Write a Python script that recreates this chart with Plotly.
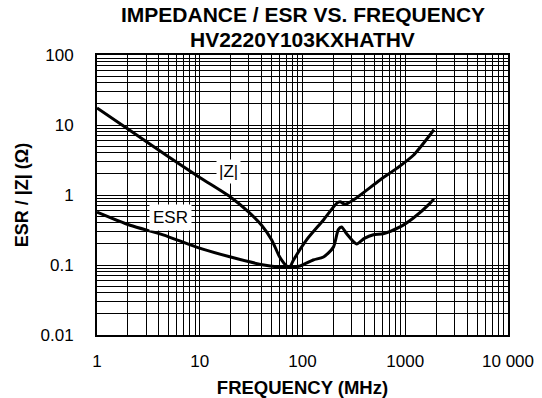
import plotly.graph_objects as go

# ---- data ----
freq_z = [1, 2, 5, 10, 20, 30, 40, 50, 60, 70, 75, 81, 110, 160, 215, 232, 259, 313, 568, 826, 1200, 1740, 1900]
z_vals = [17.5, 8.8, 3.5, 1.78, 0.93, 0.57, 0.37, 0.23, 0.13, 0.097, 0.093, 0.115, 0.23, 0.44, 0.76, 0.80, 0.74, 0.85, 1.64, 2.4, 3.7, 7.2, 8.6]

freq_esr = [1, 2.1, 4.4, 9.3, 20, 42, 71, 95, 127, 160, 200, 223, 240, 269, 336, 400, 490, 611, 889, 1200, 1740, 1900]
esr_vals = [0.57, 0.37, 0.27, 0.18, 0.13, 0.10, 0.093, 0.097, 0.118, 0.13, 0.18, 0.32, 0.35, 0.28, 0.20, 0.24, 0.27, 0.28, 0.35, 0.47, 0.76, 0.88]

x_decades = [1, 10, 100, 1000, 10000]
x_tick_text = ["1", "10", "100", "1000", "10 000"]
y_decades = [0.01, 0.1, 1, 10, 100]
y_tick_text = ["0.01", "0.1", "1", "10", "100"]

title_line1 = "IMPEDANCE / ESR VS. FREQUENCY"
title_line2 = "HV2220Y103KXHATHV"
x_title = "FREQUENCY (MHz)"
y_title = "ESR / |Z| (Ω)"
label_z = "|Z|"
label_esr = "ESR"


def log_grid(decades, texts):
    vals, txt = [], []
    for i, d in enumerate(decades):
        vals.append(d)
        txt.append(texts[i])
        if i < len(decades) - 1:
            for m in range(2, 10):
                vals.append(d * m)
                txt.append("")
    return vals, txt


xv, xt = log_grid(x_decades, x_tick_text)
yv, yt = log_grid(y_decades, y_tick_text)

FONT = "Liberation Sans, Arial, Helvetica, sans-serif"

fig = go.Figure()
fig.add_trace(go.Scatter(x=freq_z, y=z_vals, mode="lines",
                         line=dict(color="black", width=3, shape="spline", smoothing=0.7),
                         showlegend=False, hoverinfo="skip"))
fig.add_trace(go.Scatter(x=freq_esr, y=esr_vals, mode="lines",
                         line=dict(color="black", width=3, shape="spline", smoothing=0.7),
                         showlegend=False, hoverinfo="skip"))

fig.update_layout(
    width=542, height=398,
    margin=dict(l=97, r=34, t=55, b=63),
    paper_bgcolor="white", plot_bgcolor="white",
    font=dict(family=FONT, color="black", size=17),
    showlegend=False,
)

fig.update_xaxes(
    type="log", range=[0, 4],
    tickmode="array", tickvals=xv, ticktext=xt,
    showgrid=True, gridcolor="black", gridwidth=1,
    showline=True, linecolor="black", linewidth=2, mirror=True,
    ticks="outside", ticklen=10, tickcolor="rgba(0,0,0,0)",
    tickfont=dict(size=17), zeroline=False, automargin=False,
    title=dict(text="<b>" + x_title + "</b>", font=dict(size=18.5), standoff=12),
)
fig.update_yaxes(
    type="log", range=[-2, 2],
    tickmode="array", tickvals=yv, ticktext=yt,
    showgrid=True, gridcolor="black", gridwidth=1,
    showline=True, linecolor="black", linewidth=2, mirror=True,
    ticks="outside", ticklen=18, tickcolor="rgba(0,0,0,0)",
    tickfont=dict(size=17), zeroline=False, automargin=False,
    title=dict(text="<b>" + y_title + "</b>", font=dict(size=18), standoff=7),
)

fig.add_annotation(text="<b>" + title_line1 + "</b>", xref="paper", yref="paper",
                   x=0.5, y=1, yshift=41, showarrow=False, font=dict(size=21),
                   xanchor="center", yanchor="middle")
fig.add_annotation(text="<b>" + title_line2 + "</b>", xref="paper", yref="paper",
                   x=0.5, y=1, yshift=16, showarrow=False, font=dict(size=21),
                   xanchor="center", yanchor="middle")

fig.add_annotation(text=label_z, x=1.28, y=0.329, xref="x", yref="y", showarrow=False,
                   bgcolor="white", font=dict(size=17), borderpad=2)
fig.add_annotation(text=label_esr, x=0.715, y=-0.321, xref="x", yref="y", showarrow=False,
                   bgcolor="white", font=dict(size=17), borderpad=3)

# remove the default 8px page margin so the figure fills the window exactly
fig.write_html("out.html", config={"displayModeBar": False},
               post_script="document.body.style.margin='0';")
